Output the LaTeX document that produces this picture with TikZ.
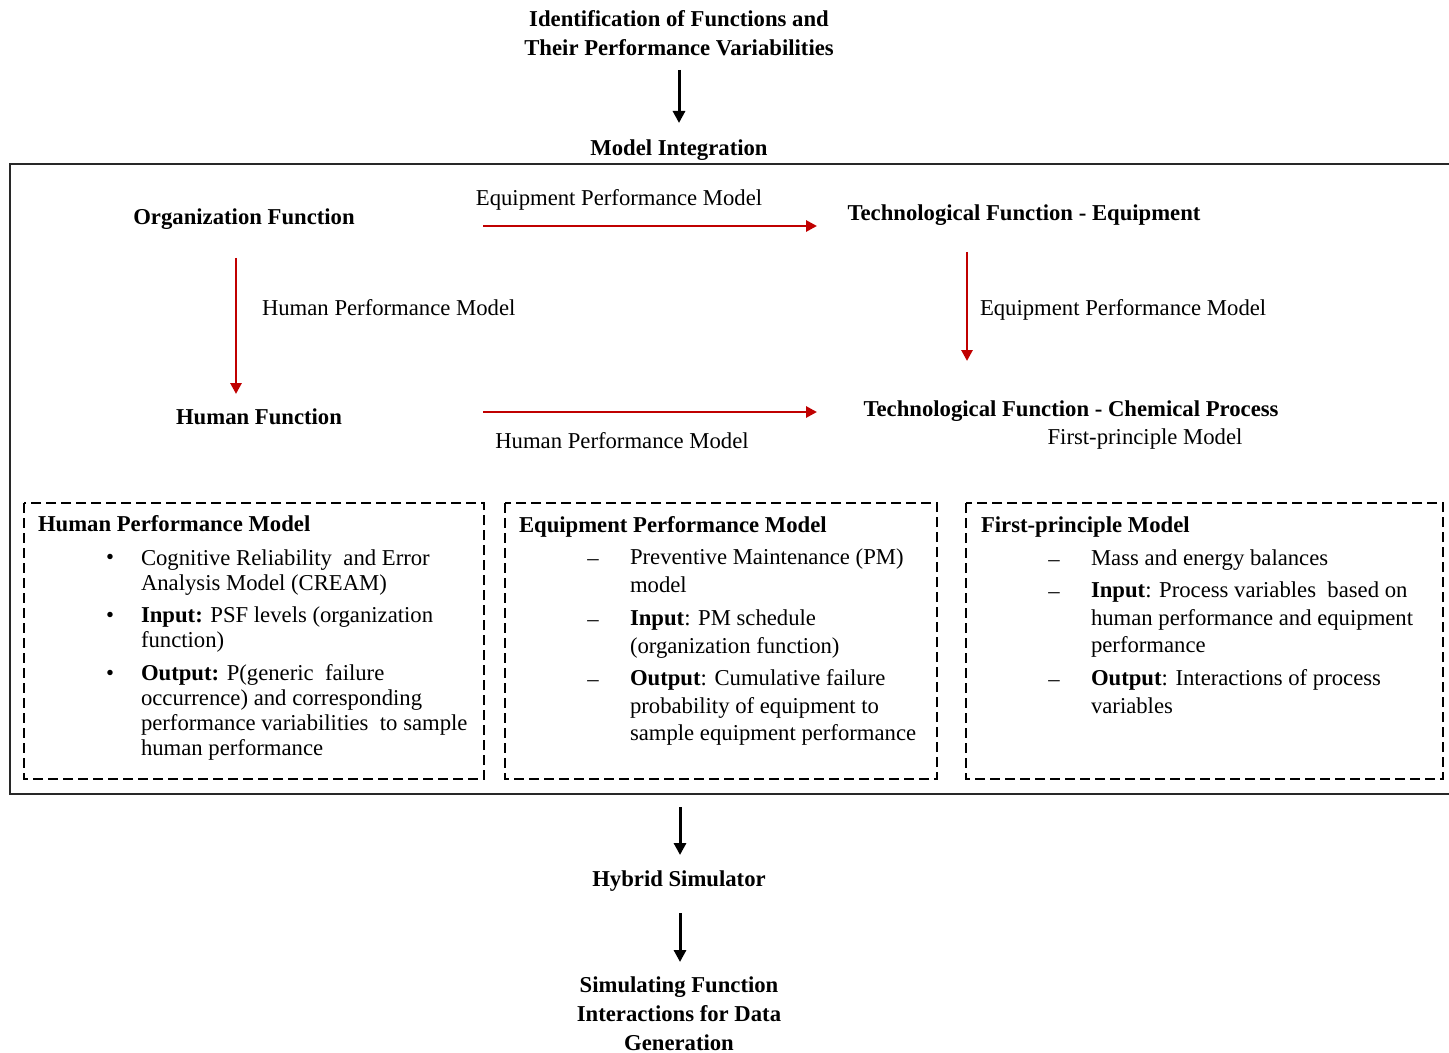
\documentclass[tikz,border=0pt]{standalone}
\usepackage{fontspec}
\setmainfont{Liberation Serif}
\usetikzlibrary{arrows.meta}
\definecolor{linkred}{RGB}{192,0,0}
\definecolor{framegray}{RGB}{40,40,40}
\begin{document}
\begin{tikzpicture}[x=0.5pt,y=-0.5pt,
  every node/.style={inner sep=0pt, outer sep=0pt},
  txt/.style={font=\fontsize{11.35pt}{12.5pt}\selectfont},
  head/.style={font=\fontsize{11.35pt}{14.5pt}\selectfont\bfseries, align=center},
  flow/.style={line width=1.5pt, -{Triangle[length=6pt,width=6pt]}},
  link/.style={draw=linkred, line width=1.4pt, -{Triangle[length=5.5pt,width=5.5pt]}},
  panel/.style={draw=black, line width=1pt, dash pattern=on 5pt off 2.5pt},
  itemA/.style={anchor=north west, align=left, font=\fontsize{11.35pt}{12.5pt}\selectfont},
  itemB/.style={anchor=north west, align=left, font=\fontsize{11.35pt}{13.75pt}\selectfont},
  bul/.style={anchor=base, font=\fontsize{11.35pt}{12.5pt}\selectfont}
]
\useasboundingbox (0,0) rectangle (1449,1053);

% top of the flow
\node[head] (ident) at (679,33) {Identification of Functions and\\Their Performance Variabilities};
\node[head] (integ) at (679,150) {Model Integration};
\coordinate (t1s) at (679,70);
\draw[flow] (t1s) -- (679,123);

% integration frame (open to the right)
\draw[framegray, line width=1pt] (1449,164) -- (10,164) -- (10,794) -- (1449,794);

% functions
\node[head] (org) at (244,219) {Organization Function};
\node[head] (teq) at (1024,215) {Technological Function - Equipment};
\node[head] (hum) at (259,417) {Human Function};
\node[head] (tcp) at (1071,411) {Technological Function - Chemical Process};
\node[txt] (fpm) at (1145,439) {First-principle Model};

% model links
\coordinate (a1s) at (483,226); \coordinate (a1e) at (817,226);
\draw[link] (a1s) -- (a1e);
\node[txt] (l1) at (619,200) {Equipment Performance Model};

\coordinate (a2s) at (236,258); \coordinate (a2e) at (236,394);
\draw[link] (a2s) -- (a2e);
\node[txt, anchor=west] (l2) at (262,308) {Human Performance Model};

\coordinate (a3s) at (967,252); \coordinate (a3e) at (967,361);
\draw[link] (a3s) -- (a3e);
\node[txt, anchor=west] (l3) at (980,310) {Equipment Performance Model};

\coordinate (a4s) at (483,412); \coordinate (a4e) at (817,412);
\draw[link] (a4s) -- (a4e);
\node[txt] (l4) at (622,441) {Human Performance Model};

% model panels
\draw[panel] (24,503) rectangle (484,779);
\draw[panel] (505,503) rectangle (937,779);
\draw[panel] (966,503) rectangle (1443,779);

% human performance model
\node[head, anchor=west] (hpmT) at (38,524) {Human Performance Model};
\node[bul] (hb1) at (110,564) {•};
\node[bul] (hb2) at (110,622) {•};
\node[bul] (hb3) at (110,680) {•};
\node[itemA] (hi1) at (141,550) {Cognitive Reliability \ and Error\\Analysis Model (CREAM)};
\node[itemA] (hi2) at (141,607) {\textbf{Input:} PSF levels (organization\\function)};
\node[itemA] (hi3) at (141,665) {\textbf{Output:} P(generic \ failure\\occurrence) and corresponding\\performance variabilities \ to sample\\human performance};

% equipment performance model
\node[head, anchor=west] (epmT) at (519,527) {Equipment Performance Model};
\node[bul] (eb1) at (593,565) {–};
\node[bul] (eb2) at (593,626) {–};
\node[bul] (eb3) at (593,686) {–};
\node[itemB] (ei1) at (630,549) {Preventive Maintenance (PM)\\model};
\node[itemB] (ei2) at (630,610) {\textbf{Input}: PM schedule\\(organization function)};
\node[itemB] (ei3) at (630,670) {\textbf{Output}: Cumulative failure\\probability of equipment to\\sample equipment performance};

% first-principle model
\node[head, anchor=west] (fpmT) at (981,527) {First-principle Model};
\node[bul] (fb1) at (1054,566) {–};
\node[bul] (fb2) at (1054,598) {–};
\node[bul] (fb3) at (1054,686) {–};
\node[itemB] (fi1) at (1091,550) {Mass and energy balances};
\node[itemB] (fi2) at (1091,582) {\textbf{Input}: Process variables \ based on\\human performance and equipment\\performance};
\node[itemB] (fi3) at (1091,670) {\textbf{Output}: Interactions of process\\variables};

% bottom of the flow
\node[head] (hyb) at (679,881) {Hybrid Simulator};
\node[head] (sim) at (679,1014) {Simulating Function\\Interactions for Data\\Generation};
\coordinate (b1s) at (680,807);
\draw[flow] (b1s) -- (680,855);
\coordinate (b2s) at (680,913);
\draw[flow] (b2s) -- (680,962);
\end{tikzpicture}
\end{document}
